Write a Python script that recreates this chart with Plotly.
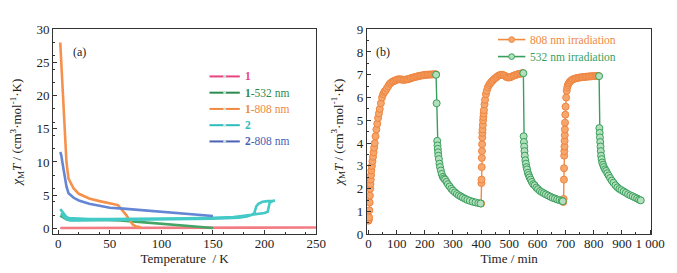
import plotly.graph_objects as go

# ---------- panel (a) data ----------
T_1 = [2, 10, 20, 30, 40, 50, 60, 70, 80, 90, 100, 110, 120, 130, 140, 150, 160, 170, 180, 190, 200, 210, 220, 230, 240, 250]
v_1 = [0.05, 0.05, 0.06, 0.06, 0.07, 0.07, 0.08, 0.08, 0.08, 0.09, 0.09, 0.09, 0.1, 0.1, 0.1, 0.1, 0.1, 0.1, 0.11, 0.11, 0.11, 0.11, 0.12, 0.12, 0.12, 0.12]

T_1_532 = [2, 4, 6, 8, 10, 20, 40, 60, 75, 90, 100, 115, 125, 140, 150]
v_1_532 = [1.9, 1.7, 1.5, 1.35, 1.25, 1.3, 1.3, 1.2, 1.0, 0.8, 0.7, 0.5, 0.4, 0.2, 0.05]

T_1_808 = [2, 2.5, 3, 4, 5, 6, 7, 8, 10, 12, 15, 20, 25, 30, 40, 50, 55, 58, 60, 63, 66, 68, 70, 72, 75, 78, 80]
v_1_808 = [28, 26.5, 24, 21, 18, 15, 12.5, 10, 7.5, 6.8, 6.0, 5.2, 4.8, 4.5, 4.1, 3.8, 3.7, 3.5, 3.1, 2.6, 2.0, 1.5, 1.0, 0.6, 0.3, 0.2, 0.15]

T_2 = [2, 3, 5, 8, 10, 15, 20, 30, 50, 75, 100, 125, 150, 170, 180, 188, 195, 200, 203, 205, 208, 210,
       208, 203, 198, 194, 192, 190, 187, 183, 175, 150, 125, 100, 75, 50, 25, 12, 8, 5, 3]
v_2 = [2.9, 2.7, 2.2, 1.7, 1.55, 1.5, 1.45, 1.4, 1.4, 1.4, 1.45, 1.5, 1.6, 1.7, 1.9, 2.1, 2.2, 2.3, 2.5, 3.9, 4.1, 4.2,
       4.15, 4.1, 4.0, 3.7, 3.3, 2.3, 2.0, 1.8, 1.6, 1.45, 1.4, 1.35, 1.3, 1.3, 1.25, 1.2, 1.4, 1.8, 2.3]

T_2_808 = [2, 3, 4, 5, 6, 8, 10, 12, 15, 20, 25, 30, 40, 50, 60, 75, 100, 125, 140, 150]
v_2_808 = [11.5, 11, 10, 9, 8, 6.3, 5.3, 5.0, 4.6, 4.2, 3.9, 3.7, 3.4, 3.1, 3.0, 2.8, 2.5, 2.2, 2.0, 1.85]

# ---------- panel (b) data ----------
t_808_c1 = [0, 1, 2, 3, 4, 5, 6, 7, 8, 9, 10, 12, 14, 16, 18, 20, 22, 25, 28, 31, 34, 37, 40, 44, 48, 52, 56, 60, 65, 70,
            75, 80, 85, 90, 95, 100, 105, 110, 115, 120, 125, 130, 135, 140, 145, 150, 155, 160, 165, 170, 175, 180,
            185, 190, 195, 200, 205, 210, 215, 220, 225, 230, 235, 240]
v_808_c1 = [0.6, 0.65, 0.75, 1.05, 1.4, 1.7, 2.0, 2.2, 2.4, 2.6, 2.8, 3.0, 3.2, 3.4, 3.6, 3.8, 4.0, 4.3, 4.6, 4.85, 5.1,
            5.3, 5.5, 5.75, 6.0, 6.15, 6.25, 6.3, 6.4, 6.5, 6.6, 6.65, 6.7, 6.72, 6.75, 6.78, 6.8, 6.8, 6.8, 6.78, 6.78,
            6.78, 6.8, 6.8, 6.82, 6.85, 6.87, 6.88, 6.9, 6.92, 6.93, 6.95, 6.96, 6.97, 6.98, 7.0, 7.0, 7.0, 7.01, 7.01,
            7.01, 7.02, 7.02, 7.02]
t_808_c2 = [400, 401, 401.5, 402, 402.5, 403, 403.5, 404, 404.5, 405, 406, 407, 408, 409, 410, 412, 414, 417, 420, 424,
            428, 432, 436, 440, 445, 450, 455, 460, 465, 470, 475, 480, 485, 490, 495, 500, 505, 510, 515, 520, 525,
            530, 535, 540, 545, 548]
v_808_c2 = [1.35, 2.25, 2.4, 2.95, 3.35, 3.65, 3.95, 4.25, 4.45, 4.6, 4.8, 5.0, 5.15, 5.3, 5.45, 5.7, 5.9, 6.15, 6.3,
            6.45, 6.55, 6.62, 6.68, 6.73, 6.8, 6.85, 6.9, 6.95, 6.98, 7.0, 7.0, 6.98, 6.95, 6.9, 6.88, 6.88, 6.9, 6.93,
            6.96, 6.98, 7.0, 7.02, 7.04, 7.05, 7.06, 7.07]
t_808_c3 = [692, 693, 694, 694.5, 695, 695.5, 696, 696.5, 697, 697.5, 698, 699, 700, 702, 704, 706, 708, 711, 714, 718,
            722, 726, 731, 736, 741, 746, 751, 756, 761, 766, 771, 776, 781, 786, 791, 796, 801, 806, 811, 816]
v_808_c3 = [1.42, 1.55, 2.4, 2.9, 3.45, 3.65, 3.85, 4.1, 4.35, 4.6, 4.9, 5.25, 5.6, 6.0, 6.3, 6.45, 6.55, 6.62, 6.68,
            6.73, 6.77, 6.8, 6.82, 6.84, 6.86, 6.87, 6.88, 6.89, 6.9, 6.9, 6.91, 6.92, 6.92, 6.93, 6.93, 6.94, 6.94,
            6.94, 6.95, 6.95]

t_532_c1 = [240, 242, 244, 245, 246, 247, 248, 250, 252, 254, 257, 260, 264, 268, 272, 277, 282, 288, 294, 300, 307,
            314, 321, 328, 335, 343, 351, 360, 370, 380, 390, 398]
v_532_c1 = [7.0, 5.75, 4.1, 3.9, 3.75, 3.6, 3.45, 3.3, 3.1, 2.95, 2.8, 2.65, 2.52, 2.45, 2.4, 2.3, 2.2, 2.1, 2.0, 1.92,
            1.84, 1.77, 1.71, 1.66, 1.61, 1.56, 1.51, 1.47, 1.43, 1.4, 1.37, 1.35]
t_532_c2 = [550, 551, 552, 553, 554, 555, 557, 559, 561, 563, 566, 569, 572, 576, 580, 585, 590, 596, 602, 609, 616,
            623, 630, 638, 646, 654, 662, 670, 678, 686, 690]
v_532_c2 = [7.07, 4.3, 4.05, 3.85, 3.65, 3.45, 3.25, 3.1, 2.95, 2.85, 2.7, 2.6, 2.5, 2.4, 2.3, 2.2, 2.15, 2.05, 1.98,
            1.9, 1.85, 1.8, 1.75, 1.7, 1.65, 1.6, 1.57, 1.53, 1.5, 1.47, 1.45]
t_532_c3 = [819, 820, 821, 822, 823, 824, 825, 826, 828, 830, 833, 836, 840, 844, 848, 853, 858, 864, 870, 877, 884,
            891, 898, 906, 914, 922, 930, 938, 946, 954, 961, 967]
v_532_c3 = [6.94, 4.66, 4.45, 4.25, 4.05, 3.85, 3.65, 3.45, 3.3, 3.15, 3.05, 2.95, 2.85, 2.78, 2.68, 2.58, 2.47, 2.36,
            2.26, 2.15, 2.06, 1.99, 1.94, 1.88, 1.82, 1.76, 1.71, 1.67, 1.62, 1.57, 1.52, 1.49]

# legend labels
legend_a = [("1", ""), ("1", "-532 nm"), ("1", "-808 nm"), ("2", ""), ("2", "-808 nm")]
legend_b = ["808 nm irradiation", "532 nm irradiation"]

FONT = "Liberation Serif, Times New Roman, serif"
W, H = 677, 273
fig = go.Figure()

colors_a = [("#f27c84", "#e8447f"), ("#45a565", "#2e8b50"), ("#f5914c", "#f08a40"),
            ("#44cac6", "#30bcbc"), ("#6486d4", "#4a62b4")]
data_a = [(T_1, v_1), (T_1_532, v_1_532), (T_1_808, v_1_808), (T_2, v_2), (T_2_808, v_2_808)]
for (x, y), (c, lc) in zip(data_a, colors_a):
    fig.add_trace(go.Scatter(x=x, y=y, mode="lines", showlegend=False,
                             line=dict(color=c, width=2.6), xaxis="x", yaxis="y"))

for tx, vy in [(t_808_c1, v_808_c1), (t_808_c2, v_808_c2), (t_808_c3, v_808_c3)]:
    fig.add_trace(go.Scatter(x=tx, y=vy, mode="lines+markers", showlegend=False,
                             line=dict(color="#f08a40", width=1.4),
                             marker=dict(symbol="circle", size=7, color="#f7a66c", line=dict(color="#ee8540", width=1)),
                             xaxis="x2", yaxis="y2"))
for tx, vy in [(t_532_c1, v_532_c1), (t_532_c2, v_532_c2), (t_532_c3, v_532_c3)]:
    fig.add_trace(go.Scatter(x=tx, y=vy, mode="lines+markers", showlegend=False,
                             line=dict(color="#3a9e5c", width=1.4),
                             marker=dict(symbol="circle", size=7, color="#b2e0bc", line=dict(color="#3a9e5c", width=1)),
                             xaxis="x2", yaxis="y2"))

# ---- manual legends (paper coordinates from pixel layout) ----
def px(x):
    return x / W

def py(y):
    return 1 - y / H

shapes, annotations = [], []
for i, ((b, rest), (c, lc)) in enumerate(zip(legend_a, colors_a)):
    yy = 65 + 17.2 * i
    shapes.append(dict(type="line", xref="paper", yref="paper", x0=px(204), x1=px(235), y0=py(yy), y1=py(yy),
                       line=dict(color=lc, width=2)))
    shapes.append(dict(type="circle", xref="paper", yref="paper", x0=px(218), x1=px(221), y0=py(yy + 1.5),
                       y1=py(yy - 1.5), fillcolor="#cfe6dc", line=dict(width=0)))
    annotations.append(dict(text=f"<b>{b}</b>{rest}", x=px(238), y=py(yy), xref="paper", yref="paper",
                            xanchor="left", yanchor="middle", showarrow=False,
                            font=dict(family=FONT, size=11.5, color=lc)))

for i, (txt, lc, fc) in enumerate(zip(legend_b, ["#f08a40", "#3a9e5c"], ["#f7a66c", "#b2e0bc"])):
    yy = 26 + 18 * i
    shapes.append(dict(type="line", xref="paper", yref="paper", x0=px(499), x1=px(527), y0=py(yy), y1=py(yy),
                       line=dict(color=lc, width=1.6)))
    shapes.append(dict(type="circle", xref="paper", yref="paper", x0=px(510), x1=px(516), y0=py(yy + 3),
                       y1=py(yy - 3), fillcolor=fc, line=dict(color=lc, width=1)))
    annotations.append(dict(text=txt, x=px(530), y=py(yy), xref="paper", yref="paper",
                            xanchor="left", yanchor="middle", showarrow=False,
                            font=dict(family=FONT, size=11.5, color=lc)))

annotations += [
    dict(text="(a)", x=0.0916, y=0.89, xref="paper", yref="paper", showarrow=False,
         font=dict(family=FONT, size=12, color="#222")),
    dict(text="(b)", x=0.564, y=0.89, xref="paper", yref="paper", showarrow=False,
         font=dict(family=FONT, size=12, color="#222")),
]

ytitle = "<i>χ</i><sub>M</sub><i>T</i> / (cm<sup>3</sup>·mol<sup>-1</sup>·K)"
axis_common = dict(showline=True, linecolor="#333", linewidth=1, mirror=True,
                   ticks="inside", ticklen=4, tickcolor="#333", showgrid=False, zeroline=False,
                   tickfont=dict(family=FONT, size=13, color="#222"),
                   minor=dict(ticks="inside", ticklen=2, tickcolor="#333"))

fig.update_layout(
    width=W, height=H,
    margin=dict(l=0, r=0, t=0, b=0),
    paper_bgcolor="white", plot_bgcolor="white",
    font=dict(family=FONT, size=13, color="#222"),
    showlegend=False,
    xaxis=dict(domain=[0.065, 0.4625], range=[-5, 250], tickvals=[0, 50, 100, 150, 200, 250],
               ticklabelstandoff=-3,
               title=dict(text="Temperature  / K", font=dict(family=FONT, size=13), standoff=0),
               anchor="y", **axis_common),
    yaxis=dict(domain=[0.15, 0.945], range=[-0.9, 30], tickvals=[0, 5, 10, 15, 20, 25, 30],
               title=dict(text=ytitle, font=dict(family=FONT, size=13), standoff=12),
               anchor="x", **axis_common),
    xaxis2=dict(domain=[0.539, 0.969], range=[-6, 1005], tickvals=list(range(0, 1001, 100)),
                ticktext=["0", "100", "200", "300", "400", "500", "600", "700", "800", "900", "1 000"],
                ticklabelstandoff=-3,
                title=dict(text="Time / min", font=dict(family=FONT, size=13), standoff=0),
                anchor="y2", **axis_common),
    yaxis2=dict(domain=[0.15, 0.945], range=[0, 9], tickvals=list(range(0, 10)),
                title=dict(text=ytitle, font=dict(family=FONT, size=13), standoff=10),
                anchor="x2", **axis_common),
    shapes=shapes,
    annotations=annotations,
)

fig.write_html("out.html")
